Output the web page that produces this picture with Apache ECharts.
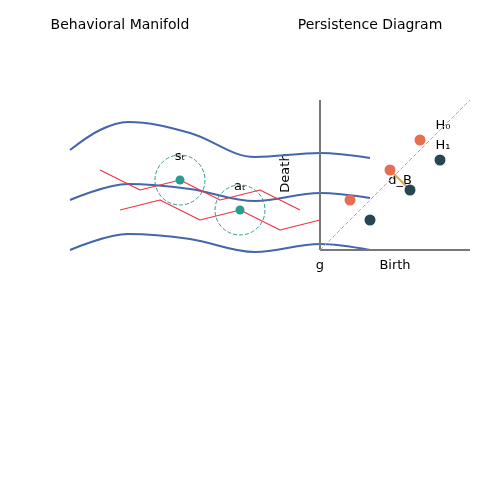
<!DOCTYPE html><html><head><meta charset="utf-8"><script src="https://cdn.jsdelivr.net/npm/echarts@6/dist/echarts.min.js"></script></head><body style="margin:0"><div id="c" style="width:500px;height:500px"></div><script>
const waveTop=[[70,150],[100,130],[128,122],[190,133],[255,157],[320,153],[370,158]];
const waveMid=[[70,200],[128,184],[190,189],[255,201],[320,193],[370,198]];
const waveBot=[[70,250],[128,234],[190,239],[255,252],[320,244],[370,250]];
const traj1=[[100,170],[140,190],[180,180],[220,200],[260,190],[300,210]];
const traj2=[[120,210],[160,200],[200,220],[240,210],[280,230],[320,220]];
const states=[[180,180],[240,210]];
const H0=[[350,200],[390,170],[420,140]];
const H1=[[370,220],[410,190],[440,160]];
const dB=[[390,170],[410,190]];
const diag=[[320,250],[470,100]];
const axV=[[320,100],[320,250]];
const axH=[[320,250],[470,250]];
const F='DejaVu Sans';
const line=(d,c,w,t,s)=>({type:'line',data:d,smooth:s?0.35:false,symbol:'none',lineStyle:{color:c,width:w,type:t||'solid'},z:2});
const txt=(x,y,s,fs)=>({type:'text',x:x,y:y,style:{text:s,font:(fs||13)+'px '+F,fill:'#000',align:'center',verticalAlign:'middle'}});
const ch=echarts.init(document.getElementById('c'));
ch.setOption({animation:false,
grid:{left:0,right:0,top:0,bottom:0},
xAxis:{type:'value',min:0,max:500,show:false},
yAxis:{type:'value',min:0,max:500,inverse:true,show:false},
graphic:[txt(120,25,'Behavioral Manifold',14),txt(370,25,'Persistence Diagram',14),
txt(180,157,'sₜ'),txt(240,187,'aₜ'),txt(443,126,'H₀'),txt(443,146,'H₁'),txt(400,181,'d_B'),
txt(395,266,'Birth'),txt(320,266,'g'),
{type:'text',x:286,y:173,rotation:Math.PI/2,style:{text:'Death',font:'13px '+F,fill:'#000',align:'center',verticalAlign:'middle'}}],
series:[line(waveTop,'#4466aa',2,null,true),line(waveMid,'#4466aa',2,null,true),line(waveBot,'#4466aa',2,null,true),
line(traj1,'#ee3344',1.2),line(traj2,'#ee3344',1.2),
line(axV,'#777',2),line(axH,'#777',2),line(diag,'#aaa',1,'dashed'),
line(dB,'#f0a040',2),
{type:'scatter',data:states,symbolSize:50,itemStyle:{color:'transparent',borderColor:'#2a9d8f',borderWidth:1,borderType:'dashed',opacity:1},z:3},
{type:'scatter',data:states,symbolSize:9,itemStyle:{color:'#2a9d8f',opacity:1},z:4},
{type:'scatter',data:H0,symbolSize:11,itemStyle:{color:'#e76f51',opacity:1},z:4},
{type:'scatter',data:H1,symbolSize:11,itemStyle:{color:'#264653',opacity:1},z:4}]});
</script></body></html>
